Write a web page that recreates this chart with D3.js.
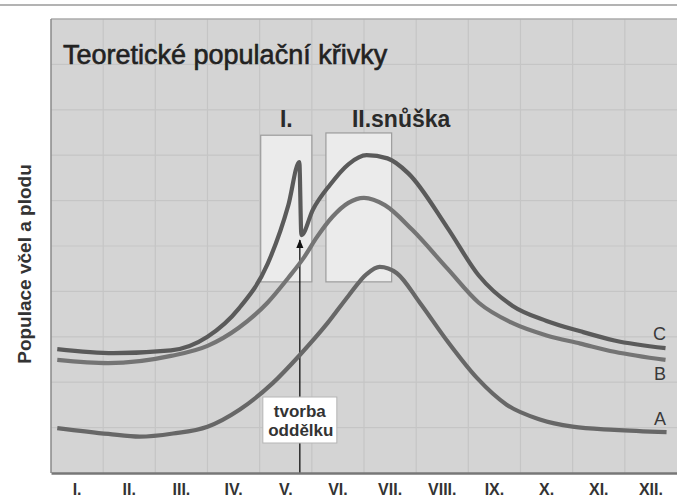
<!DOCTYPE html>
<meta charset="utf-8">
<head>
<script src="https://cdn.jsdelivr.net/npm/d3@7"></script>
<style>
  body { margin: 0; background: #fff; }
  text { font-family: "Liberation Sans", Arial, sans-serif; }
</style>
</head>
<body>
<div id="chart"></div>
<script>
// month labels on the x axis
var months = ["I.", "II.", "III.", "IV.", "V.", "VI.", "VII.", "VIII.", "IX.", "X.", "XI.", "XII."];

// curves: [month position (0..12), population in grid units (0..10)]
var curveC = [[0.12,2.73],[1.2,2.64],[2.3,2.70],[3.0,3.00],[3.6,3.62],[4.15,4.60],[4.55,5.90],
  [4.76,6.85],[4.80,5.24],[5.02,5.80],[5.35,6.35],[5.7,6.80],[6.05,7.00],[6.45,6.93],[6.85,6.60],
  [7.6,5.40],[8.2,4.35],[8.85,3.68],[9.5,3.35],[10.15,3.12],[10.8,2.92],[11.78,2.75]];
var curveB = [[0.12,2.49],[1.1,2.42],[2.3,2.58],[3.0,2.80],[3.6,3.20],[4.15,3.75],[4.55,4.30],
  [4.85,4.75],[5.1,5.20],[5.4,5.65],[5.7,5.95],[6.0,6.06],[6.4,5.90],[6.93,5.35],[7.6,4.50],
  [8.2,3.75],[8.85,3.30],[9.5,3.03],[10.15,2.85],[10.8,2.67],[11.78,2.49]];
var curveA = [[0.12,0.99],[1.1,0.86],[1.7,0.80],[2.34,0.87],[3.0,1.02],[3.62,1.40],[4.25,1.98],
  [4.77,2.60],[5.3,3.30],[5.7,3.90],[6.05,4.38],[6.3,4.54],[6.63,4.40],[7.07,3.75],[7.6,2.90],
  [8.16,2.10],[8.74,1.50],[9.37,1.18],[10.0,1.02],[10.8,0.95],[11.8,0.90]];

var seriesNames = ["A", "B", "C"];
var seriesColors = ["#676767", "#747474", "#5a5a5a"];

// brood periods (x from, x to, y from, y to)
var broods = [
  {label: "I.", x0: 4.02, x1: 5.00, y0: 4.21, y1: 7.44},
  {label: "II.snůška", x0: 5.27, x1: 6.53, y0: 4.21, y1: 7.49}
];
var splitAt = 4.77;   // tvorba oddělku
var splitDip = 5.24;

var width = 677, height = 500;
var svg = d3.select("#chart").append("svg")
    .attr("width", width)
    .attr("height", height);

var x = d3.scaleLinear().domain([0, 12]).range([51, 677]);
var y = d3.scaleLinear().domain([0, 10]).range([473, 19]);
var xBand = d3.scaleBand().domain(months).range([51, 677]);

// frame line at top
svg.append("line")
    .attr("x1", 0).attr("x2", width).attr("y1", 5).attr("y2", 5)
    .attr("stroke", "#9a9a9a").attr("stroke-width", 1.5);

// plot background
svg.append("rect")
    .attr("x", x(0)).attr("y", y(10))
    .attr("width", x(12) - x(0)).attr("height", y(0) - y(10))
    .attr("fill", "#d4d4d4");

// grid
var grid = svg.append("g");
grid.selectAll(".vg").data(d3.range(1, 12)).enter().append("line")
    .attr("x1", d => x(d)).attr("x2", d => x(d))
    .attr("y1", y(10)).attr("y2", y(0))
    .attr("stroke", "#c5c5c5").attr("stroke-width", 1.2);
grid.selectAll(".hg").data(d3.range(1, 10)).enter().append("line")
    .attr("x1", x(0)).attr("x2", x(12))
    .attr("y1", d => y(d)).attr("y2", d => y(d))
    .attr("stroke", "#c5c5c5").attr("stroke-width", 1.2);

// plot borders
svg.append("line")
    .attr("x1", x(0)).attr("x2", x(12)).attr("y1", y(10)).attr("y2", y(10))
    .attr("stroke", "#ababab").attr("stroke-width", 1.5);
svg.append("line")
    .attr("x1", x(0)).attr("x2", x(0)).attr("y1", y(10)).attr("y2", y(0))
    .attr("stroke", "#8a8a8a").attr("stroke-width", 1.5);

// title
svg.append("text")
    .attr("x", 63).attr("y", 64)
    .attr("font-size", "27px")
    .attr("fill", "#222")
    .attr("stroke", "#222").attr("stroke-width", 0.6)
    .text("Teoretické populační křivky");

// brood boxes
svg.selectAll(".brood").data(broods).enter().append("rect")
    .attr("x", d => x(d.x0)).attr("y", d => y(d.y1))
    .attr("width", d => x(d.x1) - x(d.x0))
    .attr("height", d => y(d.y0) - y(d.y1))
    .attr("fill", "#ebebeb")
    .attr("stroke", "#9c9c9c").attr("stroke-width", 1.2);

svg.selectAll(".broodLabel").data(broods).enter().append("text")
    .attr("x", d => d.label == "I." ? x((d.x0 + d.x1) / 2) : x(d.x0) + 26)
    .attr("y", 127)
    .attr("text-anchor", d => d.label == "I." ? "middle" : "start")
    .attr("font-size", "23px").attr("font-weight", "bold")
    .attr("fill", "#2a2a2a")
    .text(d => d.label);

// arrow for split
svg.append("defs").append("marker")
    .attr("id", "arrow")
    .attr("viewBox", "0 0 10 10")
    .attr("refX", 9).attr("refY", 5)
    .attr("markerWidth", 7).attr("markerHeight", 7)
    .attr("orient", "auto")
  .append("path").attr("d", "M0,1 L10,5 L0,9 Z").attr("fill", "#111");

svg.append("line")
    .attr("x1", x(splitAt)).attr("x2", x(splitAt))
    .attr("y1", y(0)).attr("y2", y(splitDip) + 5)
    .attr("stroke", "#111").attr("stroke-width", 1.3)
    .attr("marker-end", "url(#arrow)");

// curves
var line = d3.line()
    .x(d => x(d[0])).y(d => y(d[1]))
    .curve(d3.curveMonotoneX);

var allCurves = [curveA, curveB, curveC];
svg.selectAll(".curve").data(allCurves).enter().append("path")
    .attr("d", line)
    .attr("fill", "none")
    .attr("stroke", (d, i) => seriesColors[i])
    .attr("stroke-width", 4.2)
    .attr("stroke-linejoin", "round");

// curve names at right end
var nameY = [418, 373, 333];
svg.selectAll(".name").data(seriesNames).enter().append("text")
    .attr("x", 666)
    .attr("y", (d, i) => nameY[i] + 7)
    .attr("text-anchor", "end")
    .attr("font-size", "18px")
    .attr("fill", "#3a3a3a")
    .text(d => d);

// tvorba oddělku box
var note = svg.append("g");
note.append("rect")
    .attr("x", x(splitAt) - 37).attr("y", 397)
    .attr("width", 74).attr("height", 46)
    .attr("fill", "#fff").attr("stroke", "#b5b5b5");
note.append("text")
    .attr("x", x(splitAt)).attr("y", 417)
    .attr("text-anchor", "middle")
    .attr("font-size", "17px").attr("font-weight", "bold").attr("fill", "#333")
    .text("tvorba");
note.append("text")
    .attr("x", x(splitAt) + 1).attr("y", 436)
    .attr("text-anchor", "middle")
    .attr("font-size", "17px").attr("font-weight", "bold").attr("fill", "#333")
    .text("oddělku");

// x axis
var xAxis = svg.append("g")
    .attr("transform", "translate(0," + y(0) + ")")
    .call(d3.axisBottom(xBand).tickSize(0).tickPadding(11));
xAxis.select(".domain").attr("stroke", "#777").attr("stroke-width", 2.5);
xAxis.selectAll("text")
    .attr("font-size", "16px").attr("font-weight", "bold")
    .attr("font-family", "Liberation Sans Narrow, Liberation Sans, Arial, sans-serif")
    .attr("fill", "#333");

// y label
svg.append("text")
    .attr("transform", "translate(31,264) rotate(-90)")
    .attr("text-anchor", "middle")
    .attr("font-size", "19px").attr("font-weight", "bold")
    .attr("fill", "#333")
    .text("Populace včel a plodu");
</script>
</body>
</html>
